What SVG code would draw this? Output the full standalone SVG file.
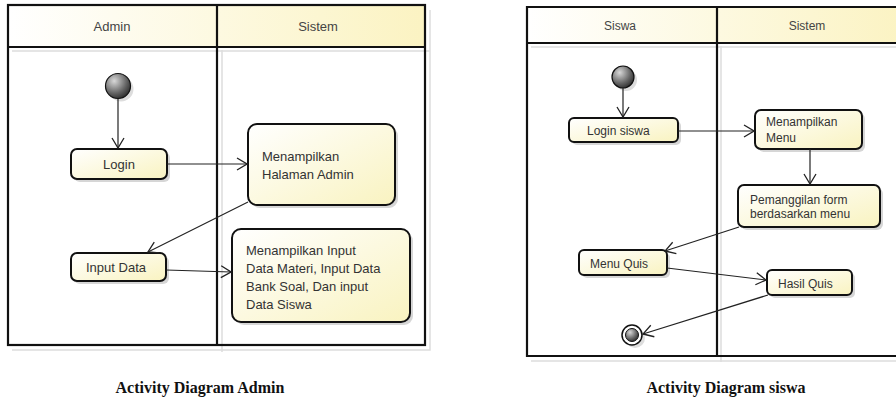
<svg xmlns="http://www.w3.org/2000/svg" width="896" height="406" viewBox="0 0 896 406">
<defs>
<linearGradient id="hdr" x1="0" y1="0" x2="1" y2="0">
<stop offset="0" stop-color="#ffffff"/>
<stop offset="1" stop-color="#fbf3c2"/>
</linearGradient>
<linearGradient id="box" x1="0" y1="0" x2="1" y2="1">
<stop offset="0" stop-color="#ffffff"/>
<stop offset="1" stop-color="#f9f3c0"/>
</linearGradient>
<radialGradient id="start" cx="0.35" cy="0.3" r="0.8">
<stop offset="0" stop-color="#d8d8d8"/>
<stop offset="0.6" stop-color="#666"/>
<stop offset="1" stop-color="#222"/>
</radialGradient>
<marker id="arr" viewBox="0 0 12 14" refX="11" refY="7" markerWidth="12" markerHeight="14" markerUnits="userSpaceOnUse" orient="auto">
<path d="M1,1 L11,7 L1,13" fill="none" stroke="#222" stroke-width="1.3"/>
</marker>
<style>
.lane{fill:none;stroke:#111;stroke-width:2.2}
.lsh{fill:none;stroke:#ddd;stroke-width:1.5}
.ht{font-family:"Liberation Sans",Arial,sans-serif;fill:#444;text-anchor:middle}
.nb{fill:url(#box);stroke:#111;stroke-width:2}
.sh{fill:#d6d6d6}
.t{font-family:"Liberation Sans",Arial,sans-serif;fill:#333}
.c{fill:none;stroke:#222;stroke-width:1.2;marker-end:url(#arr)}
.cap{font-family:"Liberation Serif","Times New Roman",serif;font-weight:bold;font-size:16px;fill:#111;text-anchor:middle}
</style>
</defs>
<rect width="896" height="406" fill="#fff"/>

<g id="lanes-admin">
<rect x="8" y="5" width="417" height="42" fill="url(#hdr)"/>
<path class="lsh" d="M12,350 H430 V10 M222,50 V352 M12,51 H430"/>
<rect class="lane" x="8" y="5" width="417" height="340"/>
<path class="lane" d="M8,47 H425 M217,5 V345"/>
<text class="ht" x="112" y="31" font-size="13">Admin</text>
<text class="ht" x="318" y="31" font-size="13">Sistem</text>
</g>

<g id="lanes-siswa">
<rect x="527" y="7" width="380" height="36" fill="url(#hdr)"/>
<path class="lsh" d="M531,361 H900 M721,46 V362 M531,47 H900"/>
<path class="lane" d="M900,7 H527 V356 H900 M527,43 H900 M717,7 V356"/>
<text class="ht" x="620" y="30" font-size="12">Siswa</text>
<text class="ht" x="807" y="30" font-size="12">Sistem</text>
</g>

<g id="start-admin">
<circle cx="121" cy="89" r="12.5" fill="#ddd"/>
<circle cx="118" cy="86" r="12.5" fill="url(#start)" stroke="#111" stroke-width="1.2"/>
</g>
<g id="login">
<rect class="sh" x="74" y="152" width="96" height="30" rx="6"/>
<rect class="nb" x="71" y="149" width="96" height="30" rx="6"/>
<text class="t" x="119" y="169" font-size="13" text-anchor="middle">Login</text>
</g>
<g id="halaman-admin">
<rect class="sh" x="251" y="127" width="147" height="81" rx="9"/>
<rect class="nb" x="248" y="124" width="147" height="81" rx="9"/>
<text class="t" x="262" y="161" font-size="13">Menampilkan</text>
<text class="t" x="262" y="179" font-size="13">Halaman Admin</text>
</g>
<g id="input-data">
<rect class="sh" x="74" y="256" width="95" height="28" rx="6"/>
<rect class="nb" x="71" y="253" width="95" height="28" rx="6"/>
<text class="t" x="86" y="272" font-size="13">Input Data</text>
</g>
<g id="input-menu">
<rect class="sh" x="235" y="232" width="178" height="93" rx="9"/>
<rect class="nb" x="232" y="229" width="178" height="93" rx="9"/>
<text class="t" x="246" y="255" font-size="13">Menampilkan Input</text>
<text class="t" x="246" y="273" font-size="13">Data Materi, Input Data</text>
<text class="t" x="246" y="291" font-size="13">Bank Soal, Dan input</text>
<text class="t" x="246" y="309" font-size="13">Data Siswa</text>
</g>

<g id="start-siswa">
<circle cx="626" cy="80" r="11" fill="#ddd"/>
<circle cx="623" cy="77" r="11" fill="url(#start)" stroke="#111" stroke-width="1.2"/>
</g>
<g id="login-siswa">
<rect class="sh" x="572" y="121" width="109" height="24" rx="5"/>
<rect class="nb" x="569" y="118" width="109" height="24" rx="5"/>
<text class="t" x="587" y="135" font-size="12">Login siswa</text>
</g>
<g id="menampilkan-menu">
<rect class="sh" x="758" y="113" width="107" height="39" rx="6"/>
<rect class="nb" x="755" y="110" width="107" height="39" rx="6"/>
<text class="t" x="766" y="126" font-size="12">Menampilkan</text>
<text class="t" x="766" y="142" font-size="12">Menu</text>
</g>
<g id="pemanggilan">
<rect class="sh" x="741" y="188" width="142" height="42" rx="6"/>
<rect class="nb" x="738" y="185" width="142" height="42" rx="6"/>
<text class="t" x="750" y="204" font-size="12">Pemanggilan form</text>
<text class="t" x="750" y="218" font-size="12">berdasarkan menu</text>
</g>
<g id="menu-quis">
<rect class="sh" x="582" y="253" width="88" height="25" rx="5"/>
<rect class="nb" x="579" y="250" width="88" height="25" rx="5"/>
<text class="t" x="590" y="268" font-size="12">Menu Quis</text>
</g>
<g id="hasil-quis">
<rect class="sh" x="770" y="273" width="85" height="25" rx="5"/>
<rect class="nb" x="767" y="270" width="85" height="25" rx="5"/>
<text class="t" x="778" y="288" font-size="12">Hasil Quis</text>
</g>
<g id="end-siswa">
<circle cx="635" cy="338" r="10" fill="#ddd"/>
<circle cx="632" cy="335" r="10" fill="#fff" stroke="#111" stroke-width="1.5"/>
<circle cx="632" cy="335" r="6.5" fill="url(#start)" stroke="#111" stroke-width="1"/>
</g>

<g id="connectors">
<line class="c" x1="118" y1="99" x2="118" y2="148"/>
<line class="c" x1="167" y1="164" x2="247" y2="164"/>
<line class="c" x1="248" y1="202" x2="148" y2="252"/>
<line class="c" x1="166" y1="270" x2="231" y2="272"/>
<line class="c" x1="623" y1="88" x2="623" y2="117"/>
<line class="c" x1="678" y1="131" x2="754" y2="131"/>
<line class="c" x1="810" y1="149" x2="810" y2="184"/>
<line class="c" x1="739" y1="227" x2="665" y2="251"/>
<line class="c" x1="667" y1="268" x2="766" y2="280"/>
<line class="c" x1="768" y1="295" x2="643" y2="334"/>
</g>

<text class="cap" x="200" y="393">Activity Diagram Admin</text>
<text class="cap" x="726" y="393">Activity Diagram siswa</text>
</svg>
